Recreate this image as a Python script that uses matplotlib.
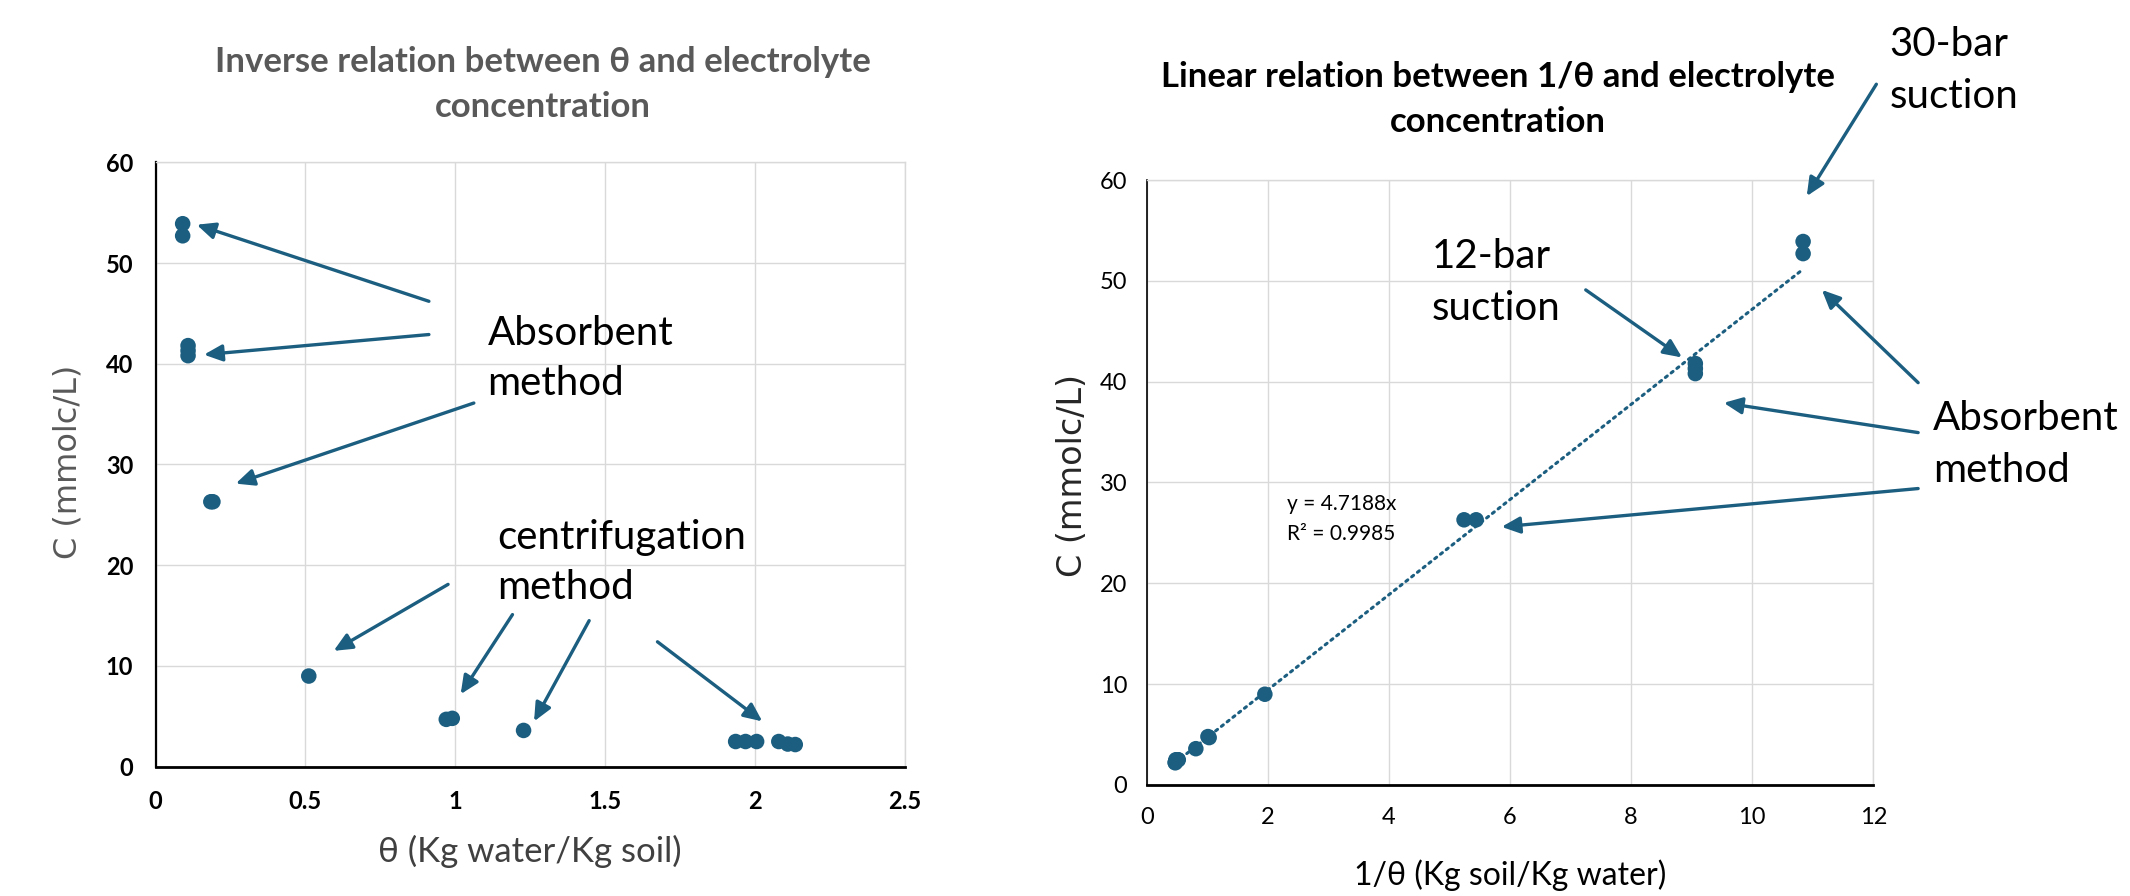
import matplotlib.pyplot as plt

# --- values ---
theta = [0.090, 0.090, 0.108, 0.108, 0.108, 0.184, 0.191, 0.511, 0.970, 0.990,
         1.228, 1.936, 1.969, 2.006, 2.080, 2.110, 2.135]
inv_theta = [10.84, 10.84, 9.06, 9.06, 9.06, 5.44, 5.24, 1.95, 1.03, 1.01,
             0.81, 0.52, 0.51, 0.50, 0.48, 0.47, 0.47]
conc = [53.9, 52.7, 41.8, 41.3, 40.8, 26.3, 26.3, 9.0, 4.7, 4.8,
        3.6, 2.5, 2.5, 2.5, 2.5, 2.25, 2.2]

left_xticks = [0, 0.5, 1, 1.5, 2, 2.5]
left_xlabels = ['0', '0.5', '1', '1.5', '2', '2.5']
right_xticks = [0, 2, 4, 6, 8, 10, 12]
yticks = [0, 10, 20, 30, 40, 50, 60]

slope = 4.7188
r_squared = 0.9985

# --- look ---
BLUE = '#1b5e80'
GRID = '#d9d9d9'
plt.rcParams['font.family'] = ['Lato', 'DejaVu Sans']

# annotation labels (data coords of first-line baseline) and arrows (start -> tip)
left_notes = [("Absorbent\nmethod", (1.108, 41.9)),
              ("centrifugation\nmethod", (1.139, 21.6))]
left_arrows = [((0.912, 46.2), (0.137, 53.8)),
               ((0.912, 42.9), (0.161, 40.9)),
               ((1.062, 36.1), (0.267, 28.1)),
               ((0.976, 18.1), (0.594, 11.5)),
               ((1.191, 15.1), (1.018, 7.2)),
               ((1.447, 14.5), (1.263, 4.5)),
               ((1.675, 12.4), (2.025, 4.5))]
right_notes = [("30-bar\nsuction", (12.27, 72.3)),
               ("12-bar\nsuction", (4.70, 51.3)),
               ("Absorbent\nmethod", (12.99, 35.2))]
right_arrows = [((12.05, 69.5), (10.90, 58.4)),
                ((7.25, 49.1), (8.84, 42.4)),
                ((12.74, 39.9), (11.15, 49.1)),
                ((12.74, 34.95), (9.53, 37.9)),
                ((12.74, 29.4), (5.86, 25.6))]


def style_axes(ax, left_lw, bold, pad_x, pad_y):
    ax.set_ylim(0, 60)
    ax.set_yticks(yticks)
    ax.grid(True, color=GRID, lw=1.0)
    ax.set_axisbelow(True)
    for side in ('top', 'right'):
        ax.spines[side].set_color(GRID)
        ax.spines[side].set_linewidth(1.0)
    ax.spines['left'].set_color('black')
    ax.spines['left'].set_linewidth(left_lw)
    ax.spines['bottom'].set_color('black')
    ax.spines['bottom'].set_linewidth(2.0)
    ax.tick_params(length=0, labelsize=17, colors='black')
    ax.tick_params(axis='x', pad=pad_x)
    ax.tick_params(axis='y', pad=pad_y)
    if bold:
        for lab in ax.get_xticklabels() + ax.get_yticklabels():
            lab.set_fontweight('bold')


def multiline(ax, text, xy, gap, **kw):
    # each line placed on its own baseline, gap in pixels
    for i, line in enumerate(text.split('\n')):
        ax.annotate(line, xy=xy, xytext=(0, -i * gap), textcoords='offset pixels',
                    ha='left', va='baseline', annotation_clip=False, **kw)


def arrows(ax, pairs):
    for start, tip in pairs:
        ax.annotate('', xy=tip, xytext=start, annotation_clip=False,
                    arrowprops=dict(arrowstyle='-|>,head_length=0.55,head_width=0.25',
                                    mutation_scale=20, color=BLUE, lw=2.4,
                                    shrinkA=0, shrinkB=0))


fig = plt.figure(figsize=(21.3, 8.96), dpi=100)
ax1 = fig.add_axes([0.0731, 0.1443, 0.3516, 0.6746])
ax2 = fig.add_axes([0.5384, 0.1239, 0.3411, 0.6752])

# left chart: theta vs C
ax1.set_xlim(0, 2.5)
ax1.set_xticks(left_xticks)
ax1.set_xticklabels(left_xlabels)
style_axes(ax1, 1.6, True, 17, 16)
ax1.scatter(theta, conc, s=125, color=BLUE, edgecolors='none', zorder=3, clip_on=False)
arrows(ax1, left_arrows)
for text, xy in left_notes:
    multiline(ax1, text, xy, 50, fontsize=29, color='black')

# right chart: 1/theta vs C with linear trendline through origin
ax2.set_xlim(0, 12)
ax2.set_xticks(right_xticks)
style_axes(ax2, 1.2, False, 16, 14)
trend_x = [min(inv_theta), max(inv_theta)]
ax2.plot(trend_x, [slope * v for v in trend_x], color=BLUE, lw=2.2,
         linestyle=(0, (0.8, 1.6)), dash_capstyle='round', zorder=2)
ax2.scatter(inv_theta, conc, s=125, color=BLUE, edgecolors='none', zorder=3, clip_on=False)
arrows(ax2, right_arrows)
for text, xy in right_notes:
    multiline(ax2, text, xy, 52, fontsize=29, color='black')
multiline(ax2, f"y = {slope}x\nR² = {r_squared}", (2.31, 27.3), 30,
          fontsize=15, color='black')

# titles
W, H = 2130, 896
for i, line in enumerate(["Inverse relation between θ and electrolyte", "concentration"]):
    fig.text(543 / W, 1 - (71.7 + i * 45.6) / H, line, ha='center', va='baseline',
             fontsize=25, fontweight='bold', color='#595959')
for i, line in enumerate(["Linear relation between 1/θ and electrolyte", "concentration"]):
    fig.text(1498 / W, 1 - (87.3 + i * 44.4) / H, line, ha='center', va='baseline',
             fontsize=25, fontweight='bold', color='black')

# axis labels
fig.text(530 / W, 1 - 861.7 / H, "θ (Kg water/Kg soil)", ha='center', va='baseline',
         fontsize=25, color='#404040')
fig.text(1510 / W, 1 - 885 / H, "1/θ (Kg soil/Kg water)", ha='center', va='baseline',
         fontsize=23, color='black')
fig.text(68 / W, 1 - 462 / H, "C (mmolc/L)", rotation=90, ha='center', va='center',
         family='DejaVu Sans', fontsize=23, color='#595959')
fig.text(1073 / W, 1 - 475 / H, "C (mmolc/L)", rotation=90, ha='center', va='center',
         family='DejaVu Sans', fontsize=24, color='#262626')

fig.savefig('out.png', dpi=100, facecolor='white')
